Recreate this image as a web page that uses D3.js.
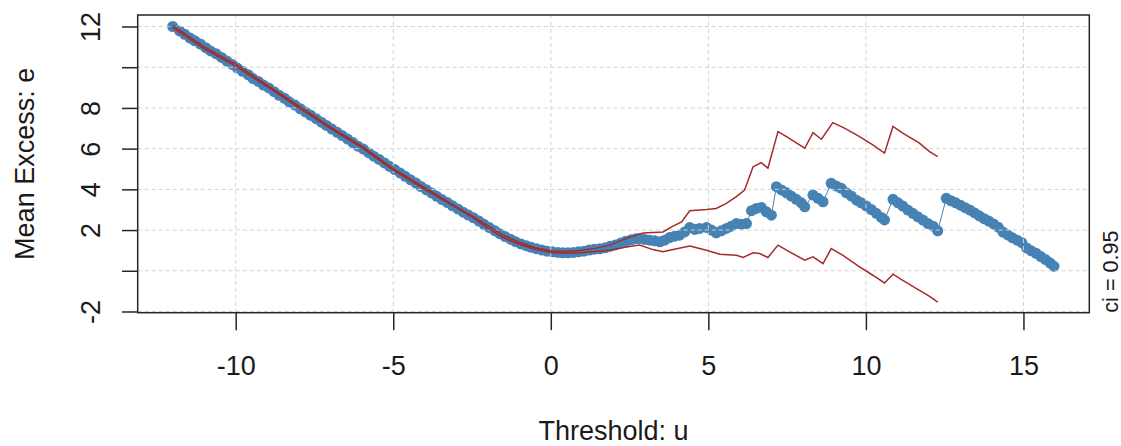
<!DOCTYPE html>
<html>
<head>
    <title>Mean Excess Plot</title>
    <script src="https://d3js.org/d3.v7.min.js"></script>
    <style>
        body { margin: 0; background: white; }
        svg { font-family: "Liberation Sans", Arial, sans-serif; }
        .grid line { stroke: #d3d3d3; stroke-width: 1; stroke-dasharray: 4,3; }
        .axis line { stroke: #262626; stroke-width: 1.5; }
        .axis text { fill: #1a1a1a; font-size: 27px; }
    </style>
</head>
<body>
<svg id="chart"></svg>
<script>
// thresholds u and mean excess e
var thresholds = [
    -12.00, -11.78, -11.62, -11.45, -11.30, -11.12, -10.95, -10.80, -10.62, -10.45,
    -10.28, -10.10, -9.95, -9.78, -9.60, -9.45, -9.28, -9.12, -8.95, -8.78,
    -8.62, -8.45, -8.30, -8.12, -7.95, -7.78, -7.62, -7.45, -7.28, -7.12,
    -6.95, -6.78, -6.62, -6.45, -6.28, -6.12, -5.95, -5.78, -5.62, -5.45,
    -5.28, -5.12, -4.95, -4.78, -4.62, -4.45, -4.28, -4.12, -3.95, -3.78,
    -3.62, -3.45, -3.28, -3.12, -2.95, -2.78, -2.62, -2.45, -2.28, -2.12,
    -1.95, -1.78, -1.62, -1.45, -1.28, -1.12, -0.95, -0.78, -0.62, -0.45,
    -0.28, -0.12, 0.05, 0.22, 0.38, 0.55, 0.72, 0.88, 1.05, 1.22,
    1.38, 1.55, 1.72, 1.88, 2.05, 2.22, 2.38, 2.55, 2.70,
    2.82, 2.98, 3.14, 3.30, 3.46, 3.62, 3.77, 3.93, 4.09, 4.25,
    4.41, 4.57, 4.72, 4.94, 5.10, 5.25, 5.41, 5.57, 5.73, 5.89,
    6.05, 6.21, 6.37, 6.52, 6.68, 6.84, 7.00, 7.16, 7.32, 7.48,
    7.63, 7.79, 7.95, 8.06, 8.32, 8.48, 8.64, 8.90, 9.06, 9.22,
    9.38, 9.54, 9.70, 9.85, 10.01, 10.17, 10.33, 10.49, 10.59, 10.86,
    11.02, 11.17, 11.33, 11.49, 11.65, 11.81, 11.97, 12.13, 12.28, 12.55,
    12.70, 12.85, 13.00, 13.15, 13.30, 13.45, 13.60, 13.75, 13.90, 14.05,
    14.20, 14.35, 14.50, 14.65, 14.80, 14.95, 15.10, 15.25, 15.40, 15.55,
    15.70, 15.85, 15.97
];
var meanExcess = [
    12.00, 11.78, 11.62, 11.43, 11.30, 11.14, 10.96, 10.80, 10.66, 10.48,
    10.30, 10.13, 9.96, 9.80, 9.63, 9.44, 9.30, 9.12, 8.98, 8.80,
    8.62, 8.47, 8.30, 8.14, 7.96, 7.80, 7.64, 7.47, 7.30, 7.14,
    6.96, 6.80, 6.64, 6.47, 6.30, 6.12, 5.98, 5.80, 5.63, 5.47,
    5.30, 5.13, 4.97, 4.80, 4.64, 4.47, 4.31, 4.14, 3.98, 3.82,
    3.66, 3.50, 3.35, 3.19, 3.04, 2.88, 2.74, 2.60, 2.44, 2.28,
    2.12, 1.97, 1.82, 1.68, 1.55, 1.43, 1.32, 1.23, 1.15, 1.08,
    1.02, 0.96, 0.93, 0.90, 0.88, 0.88, 0.90, 0.93, 0.96, 1.02,
    1.06, 1.08, 1.13, 1.20, 1.27, 1.36, 1.45, 1.52, 1.57,
    1.59, 1.54, 1.50, 1.47, 1.42, 1.50, 1.63, 1.70, 1.75, 1.91,
    2.13, 2.03, 2.08, 2.13, 2.00, 1.86, 1.96, 2.08, 2.19, 2.32,
    2.29, 2.32, 2.95, 3.06, 3.11, 2.90, 2.73, 4.13, 3.97, 3.83,
    3.67, 3.51, 3.34, 3.14, 3.72, 3.56, 3.39, 4.30, 4.16, 4.05,
    3.83, 3.67, 3.47, 3.34, 3.18, 3.01, 2.82, 2.62, 2.50, 3.51,
    3.34, 3.18, 2.98, 2.82, 2.65, 2.49, 2.32, 2.19, 1.96, 3.56,
    3.44, 3.34, 3.22, 3.10, 2.98, 2.84, 2.70, 2.56, 2.44, 2.30,
    2.14, 1.90, 1.76, 1.62, 1.50, 1.38, 1.12, 0.98, 0.86, 0.70,
    0.55, 0.38, 0.22
];

// confidence band (ci = 0.95)
var upperU = [-12.0, -11.0, -10.0, -9.0, -8.0, -7.0, -6.0, -5.0, -4.0, -3.0,
    -2.5, -2.0, -1.5, -1.0, -0.5, 0.0, 0.5, 0.92, 1.4, 1.87,
    2.4, 2.93, 3.56, 3.88, 4.15, 4.41, 4.94, 5.25, 5.57, 5.89,
    6.15, 6.42, 6.68, 6.89, 7.21, 7.48, 8.06, 8.32, 8.59, 8.95,
    9.32, 9.80, 10.22, 10.59, 10.86, 11.17, 11.70, 12.02, 12.28];
var upperE = [12.05, 11.0, 10.15, 9.12, 8.10, 7.07, 6.12, 5.02, 4.08, 3.14,
    2.70, 2.22, 1.74, 1.40, 1.13, 0.98, 0.95, 0.99, 1.10, 1.26,
    1.59, 1.86, 1.91, 2.19, 2.40, 2.95, 3.01, 3.06, 3.31, 3.64,
    3.97, 5.11, 5.31, 5.04, 6.84, 6.59, 6.02, 6.79, 6.46, 7.28,
    7.01, 6.59, 6.18, 5.78, 7.09, 6.76, 6.27, 5.85, 5.61];
var lowerU = [-12.0, -11.0, -10.0, -9.0, -8.0, -7.0, -6.0, -5.0, -4.0, -3.0,
    -2.5, -2.0, -1.5, -1.0, -0.5, 0.0, 0.5, 0.92, 1.4, 1.87,
    2.4, 2.82, 3.24, 3.56, 3.88, 4.41, 4.94, 5.36, 5.89, 6.10,
    6.42, 6.63, 6.89, 7.21, 7.48, 8.06, 8.32, 8.64, 8.90, 9.27,
    9.80, 10.22, 10.59, 10.86, 11.17, 11.70, 12.02, 12.28];
var lowerE = [11.95, 10.90, 10.05, 9.05, 8.02, 7.00, 6.05, 4.95, 4.00, 3.10,
    2.64, 2.10, 1.62, 1.30, 1.06, 0.90, 0.86, 0.88, 0.95, 1.01,
    1.17, 1.26, 1.04, 0.93, 1.04, 1.21, 1.01, 0.81, 0.76, 0.65,
    0.88, 0.85, 0.65, 1.26, 1.01, 0.52, 0.68, 0.35, 1.09, 0.76,
    0.19, -0.22, -0.60, -0.17, -0.47, -0.96, -1.26, -1.54];

var xTicks = [-10, -5, 0, 5, 10, 15];
var xTickLabels = ["-10", "-5", "0", "5", "10", "15"];
var yTicks = [-2, 0, 2, 4, 6, 8, 10, 12];
var yTickLabels = ["-2", "", "2", "4", "6", "8", "", "12"];

var W = 1121, H = 446;
var box = { left: 137.7, right: 1089.3, top: 15, bottom: 312.7 };

var svg = d3.select('#chart').attr('width', W).attr('height', H);

var x = d3.scaleLinear().domain([-13.11, 17.09]).range([box.left, box.right]);
var y = d3.scaleLinear().domain([-2.06, 12.565]).range([box.bottom, box.top]);

var points = thresholds.map((u, i) => ({ u: u, e: meanExcess[i] }));
var upper = upperU.map((u, i) => ({ u: u, e: upperE[i] }));
var lower = lowerU.map((u, i) => ({ u: u, e: lowerE[i] }));

var line = d3.line().x(d => x(d.u)).y(d => y(d.e));

// connecting line and points
svg.append('path')
    .datum(points)
    .attr('d', line)
    .attr('fill', 'none')
    .attr('stroke', 'steelblue')
    .attr('stroke-width', 1);

svg.selectAll('.pt')
    .data(points)
    .enter().append('circle')
    .attr('class', 'pt')
    .attr('cx', d => x(d.u))
    .attr('cy', d => y(d.e))
    .attr('r', 5.5)
    .attr('fill', 'steelblue');

// grid on top of the points, like R's grid()
var grid = svg.append('g').attr('class', 'grid');
grid.selectAll('.gx')
    .data(xTicks)
    .enter().append('line')
    .attr('x1', d => x(d)).attr('x2', d => x(d))
    .attr('y1', box.top).attr('y2', box.bottom);
grid.selectAll('.gy')
    .data(yTicks)
    .enter().append('line')
    .attr('x1', box.left).attr('x2', box.right)
    .attr('y1', d => y(d)).attr('y2', d => y(d));

// confidence lines
[upper, lower].forEach(function (band) {
    svg.append('path')
        .datum(band)
        .attr('d', line)
        .attr('fill', 'none')
        .attr('stroke', '#A52A2A')
        .attr('stroke-width', 1.5);
});

// axes
var xAxis = svg.append('g')
    .attr('class', 'axis')
    .attr('transform', 'translate(0,' + box.bottom + ')')
    .call(d3.axisBottom(x).tickValues(xTicks).tickSize(17.5)
        .tickFormat((d, i) => xTickLabels[i]));
xAxis.select('.domain').remove();
xAxis.selectAll('text').attr('y', 62).attr('dy', 0).style('font-size', '27px');

var yAxis = svg.append('g')
    .attr('class', 'axis')
    .attr('transform', 'translate(' + box.left + ',0)')
    .call(d3.axisLeft(y).tickValues(yTicks).tickSize(15.7)
        .tickFormat((d, i) => yTickLabels[i]));
yAxis.select('.domain').remove();
yAxis.selectAll('text')
    .attr('x', 0).attr('dy', 0)
    .attr('transform', 'translate(-37.7,0) rotate(-90)')
    .attr('text-anchor', 'middle')
    .style('font-size', '27px');

// plot box
svg.append('rect')
    .attr('x', box.left).attr('y', box.top)
    .attr('width', box.right - box.left).attr('height', box.bottom - box.top)
    .attr('fill', 'none')
    .attr('stroke', '#262626')
    .attr('stroke-width', 1.5);

// titles
svg.append('text')
    .attr('x', (box.left + box.right) / 2).attr('y', 440)
    .attr('text-anchor', 'middle')
    .style('font-size', '27px').style('fill', '#1a1a1a')
    .text('Threshold: u');

svg.append('text')
    .attr('transform', 'translate(34,' + (box.top + box.bottom) / 2 + ') rotate(-90)')
    .attr('text-anchor', 'middle')
    .style('font-size', '27px').style('fill', '#1a1a1a')
    .text('Mean Excess: e');

svg.append('text')
    .attr('transform', 'translate(1117.5,' + box.bottom + ') rotate(-90)')
    .attr('text-anchor', 'start')
    .style('font-size', '21.6px').style('fill', '#1a1a1a')
    .text('ci = 0.95');
</script>
</body>
</html>
